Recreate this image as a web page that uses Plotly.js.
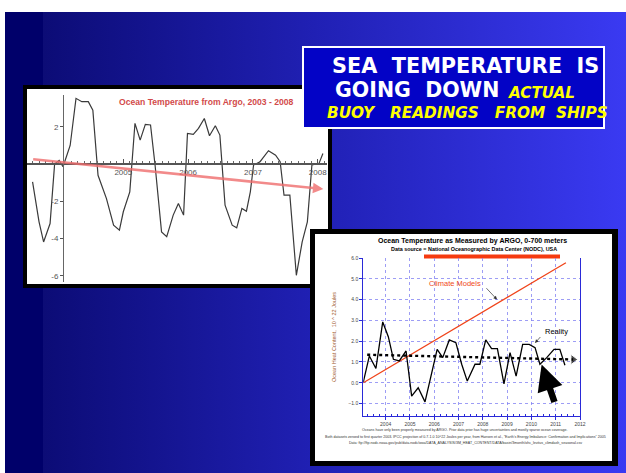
<!DOCTYPE html>
<html>
<head>
<meta charset="utf-8">
<script src="https://cdn.plot.ly/plotly-3.0.1.min.js"></script>
<style>
html,body{margin:0;padding:0;background:#ffffff;width:626px;height:473px;overflow:hidden}
#bg{position:absolute;left:5px;top:12px;width:621px;height:461px;
 background:linear-gradient(to right,#00006a 0px,#00006a 38px,#0c0c76 38px,#2020b4 50%,#3a3af2 100%)}
#plot{position:absolute;left:0;top:0;width:626px;height:473px}
</style>
</head>
<body>
<div id="bg"></div>
<div id="plot"></div>
<script>
// ---------- Left chart: Ocean Temperature from Argo, 2003 - 2008 ----------
const leftYears = [2003.60, 2003.70, 2003.77, 2003.87, 2003.94, 2004.01, 2004.07, 2004.18, 2004.27, 2004.36,
  2004.46, 2004.53, 2004.61, 2004.74, 2004.85, 2004.94, 2005.00, 2005.10, 2005.18, 2005.26,
  2005.34, 2005.42, 2005.49, 2005.59, 2005.67, 2005.77, 2005.85, 2005.93, 2005.99, 2006.08,
  2006.16, 2006.25, 2006.33, 2006.42, 2006.49, 2006.57, 2006.68, 2006.75, 2006.83, 2006.90,
  2006.96, 2007.01, 2007.11, 2007.24, 2007.35, 2007.42, 2007.48, 2007.57, 2007.67, 2007.76,
  2007.84, 2007.91, 2008.02, 2008.08];
const leftValues = [-0.95, -3.1, -4.18, -3.19, 0.0, 0.2, -0.14, 1.0, 3.53, 3.35,
  3.35, 2.9, -0.6, -1.85, -3.28, -3.55, -2.56, -1.49, 2.19, 1.29,
  2.13, 2.1, -0.05, -3.64, -3.9, -2.74, -2.11, -2.74, 1.65, 1.6,
  1.92, 2.45, 1.52, 2.06, 1.56, -2.2, -3.28, -3.42, -2.38, -2.53,
  -1.49, -0.05, 0.13, 0.72, 0.48, 0.13, -1.67, -1.67, -5.97, -4.18,
  -3.1, -0.05, 0.04, 0.57];
const leftTrendYears = [2003.586, 2008.086];
const leftTrendValues = [0.27, -1.34];
const leftXTicks = [2005, 2006, 2007, 2008];
const leftYTicks = [-6, -4, -2, 2];
const leftYTickText = ['-6', '-4', '-2', '2'];
const leftTitle = 'Ocean Temperature from Argo, 2003 - 2008';

// ---------- Right chart: Ocean Temperature as Measured by ARGO ----------
const rightYears = [2003.08, 2003.33, 2003.60, 2003.88, 2004.11, 2004.32, 2004.56, 2004.84, 2005.07, 2005.34,
  2005.62, 2006.12, 2006.35, 2006.62, 2006.89, 2007.13, 2007.36, 2007.68, 2007.88, 2008.12,
  2008.36, 2008.60, 2008.87, 2009.12, 2009.37, 2009.64, 2009.91, 2010.15, 2010.35, 2010.63,
  2010.93, 2011.17, 2011.38];
const realityValues = [0.03, 1.29, 0.69, 2.93, 2.22, 1.13, 1.05, 1.53, -0.64, -0.24,
  -0.92, 1.61, 1.21, 2.06, 1.93, 0.89, 0.08, 0.89, 0.89, 2.06,
  1.64, 1.64, -0.05, 1.45, 0.32, 1.85, 1.85, 1.69, 0.89, 1.21,
  1.61, 1.61, 0.84];
const modelYears = [2003.08, 2011.42];
const modelValues = [0.0, 5.78];
const realityTrendYears = [2003.24, 2011.72];
const realityTrendValues = [1.35, 1.12];
const bigArrowYears = [2010.97, 2010.42];   // tail, head
const bigArrowValues = [-1.0, 0.88];
const rightXTicks = [2004, 2005, 2006, 2007, 2008, 2009, 2010, 2011, 2012];
const rightYTicks = [-1, 0, 1, 2, 3, 4, 5, 6];
const rightTitle = 'Ocean Temperature as Measured by ARGO, 0-700 meters';
const rightSubtitle = 'Data source = National Oceanographic Data Center (NODC), USA';
const rightYTitle = 'Ocean Heat Content,  10 ^ 22 Joules';
const notes = [
  'Oceans have only been properly measured by ARGO. Prior data prior has huge uncertainties and mostly sparse ocean coverage.',
  'Both datasets zeroed to first quarter 2003. IPCC projection of 0.7-1.0 10^22 Joules per year, from Hansen et al., \u201cEarth\u2019s Energy Imbalance: Confirmation and Implications\u201d 2005',
  'Data: ftp://ftp.nodc.noaa.gov/pub/data.nodc/woa/DATA_ANALYSIS/3M_HEAT_CONTENT/DATA/basin/3month/ohc_levitus_climdash_seasonal.csv'
];

// ---------- Headline ----------
const headLine1 = 'SEA\u00a0\u00a0TEMPERATURE\u00a0\u00a0IS';
const headLine2 = 'GOING\u00a0\u00a0DOWN';
const headActual = 'ACTUAL';
const headLine3 = 'BUOY\u00a0\u00a0\u00a0READINGS\u00a0\u00a0\u00a0FROM\u00a0\u00a0SHIPS';

const W = 626, H = 473;
const px = v => v / W;
const py = v => 1 - v / H;
const rect = (x0, y0, x1, y1, fill, line, lw) => ({
  type: 'rect', xref: 'paper', yref: 'paper', layer: 'below',
  x0: px(x0), x1: px(x1), y0: py(y0), y1: py(y1),
  fillcolor: fill, line: {color: line || fill, width: lw || 0}
});

const blue = '#2a2ad8';
const gridBlue = '#8585f2';

const traces = [
  {x: leftYears, y: leftValues, xaxis: 'x', yaxis: 'y', mode: 'lines',
   line: {color: '#3a3a3a', width: 1.2}, hoverinfo: 'skip'},
  {x: modelYears, y: modelValues, xaxis: 'x2', yaxis: 'y2', mode: 'lines',
   line: {color: '#f0441a', width: 1.3}, hoverinfo: 'skip'},
  {x: realityTrendYears, y: realityTrendValues, xaxis: 'x2', yaxis: 'y2', mode: 'lines+markers',
   line: {color: '#000000', width: 2.4, dash: 'dot'},
   marker: {symbol: ['circle', 'triangle-right'], size: [0, 9], color: '#000000'}, hoverinfo: 'skip'},
  {x: rightYears, y: realityValues, xaxis: 'x2', yaxis: 'y2', mode: 'lines',
   line: {color: '#000000', width: 1.3}, hoverinfo: 'skip'}
];

const shapes = [
  // left panel
  rect(25, 87, 330, 286, '#ffffff', '#000000', 4),
  // headline box
  rect(303, 47, 604, 128, '#0303c6', '#ffffff', 2),
  // right panel
  rect(310, 229, 618, 466, '#000000'),
  rect(315, 234, 612, 461, '#ffffff'),
  // red highlight bar under subtitle
  rect(424, 254.5, 560, 258.5, '#f53a10')
];

const ann = [];
const txt = (text, x, y, size, color, opts) => Object.assign({
  text: text, xref: 'paper', yref: 'paper', x: px(x), y: py(y), showarrow: false,
  xanchor: 'center', yanchor: 'middle',
  font: {family: 'Liberation Sans, Arial, sans-serif', size: size, color: color}
}, opts || {});

// headline
ann.push(txt('<b>' + headLine1 + '</b>', 330, 66, 20.5, '#ffffff', {xanchor: 'left', font: {family: 'DejaVu Sans', size: 20.8, color: '#ffffff'}}));
ann.push(txt('<b>' + headLine2 + '</b>', 333, 90, 20.5, '#ffffff', {xanchor: 'left', font: {family: 'DejaVu Sans', size: 20.5, color: '#ffffff'}}));
ann.push(txt('<b><i>' + headActual + '</i></b>', 506, 93, 15.7, '#ffff00', {xanchor: 'left', font: {family: 'DejaVu Sans', size: 15.2, color: '#ffff00'}}));
ann.push(txt('<b><i>' + headLine3 + '</i></b>', 325, 112.5, 15.7, '#ffff00', {xanchor: 'left', font: {family: 'DejaVu Sans', size: 15.3, color: '#ffff00'}}));

// left chart title + trend arrow
ann.push(txt('<b>' + leftTitle + '</b>', 206, 102, 8.6, '#d24a4a'));
ann.push({text: '', xref: 'x', yref: 'y', axref: 'x', ayref: 'y',
  x: leftTrendYears[1], y: leftTrendValues[1], ax: leftTrendYears[0], ay: leftTrendValues[0],
  showarrow: true, arrowhead: 2, arrowsize: 0.8, arrowwidth: 2.6, arrowcolor: 'rgba(240,110,110,0.8)'});

// right chart texts
ann.push(txt('<b>' + rightTitle + '</b>', 472.5, 241, 7, '#000000'));
ann.push(txt('<b>' + rightSubtitle + '</b>', 473.5, 249, 5.4, '#000000'));
ann.push(txt(rightYTitle, 334, 337, 5.5, '#a0582c', {textangle: -90}));
notes.forEach((n, i) => ann.push(txt(n, 465, 430 + i * 6.7, 3.6, '#333333')));

ann.push(txt('Climate Models', 455, 283, 7.5, '#f04a20'));
ann.push({text: '', xref: 'paper', yref: 'paper', x: px(497), y: py(299.5), ax: -12, ay: -12.8,
  showarrow: true, arrowhead: 2, arrowsize: 1, arrowwidth: 0.7, arrowcolor: '#333333'});
ann.push(txt('Reality', 556, 331, 7.5, '#000000'));
ann.push({text: '', xref: 'paper', yref: 'paper', x: px(535), y: py(343), ax: 6.7, ay: -7.5,
  showarrow: true, arrowhead: 2, arrowsize: 1, arrowwidth: 0.7, arrowcolor: '#333333'});
// big black arrow
ann.push({text: '', xref: 'x2', yref: 'y2', axref: 'x2', ayref: 'y2',
  x: bigArrowYears[1], y: bigArrowValues[1], ax: bigArrowYears[0], ay: bigArrowValues[0],
  showarrow: true, arrowhead: 2, arrowsize: 0.8, arrowwidth: 6.5, arrowcolor: '#000000'});

const layout = {
  width: W, height: H,
  margin: {l: 0, r: 0, t: 0, b: 0},
  paper_bgcolor: 'rgba(0,0,0,0)',
  plot_bgcolor: 'rgba(0,0,0,0)',
  showlegend: false,
  xaxis: {
    domain: [px(27), px(327)], range: [2003.514, 2008.143],
    anchor: 'free', position: py(164),
    showline: true, linecolor: '#555555', linewidth: 2,
    ticks: 'inside', ticklen: 4, tickcolor: '#555555',
    tickmode: 'array', tickvals: leftXTicks, ticktext: leftXTicks.map(String),
    tickfont: {family: 'Liberation Sans, Arial', size: 8, color: '#555555'},
    showgrid: false, zeroline: false,
    minor: {tickmode: 'linear', tick0: 2004, dtick: 0.1, ticks: 'inside', ticklen: 2, tickcolor: '#666666', showgrid: false}
  },
  yaxis: {
    domain: [py(282), py(95)], range: [-6.33, 3.71],
    anchor: 'free', position: px(63),
    showline: true, linecolor: '#666666', linewidth: 1,
    ticks: 'outside', ticklen: 3, tickcolor: '#555555',
    tickmode: 'array', tickvals: leftYTicks, ticktext: leftYTickText,
    tickfont: {family: 'Liberation Sans, Arial', size: 8, color: '#555555'},
    showgrid: false, zeroline: false
  },
  xaxis2: {
    domain: [px(363.3), px(580)], range: [2003.08, 2012],
    anchor: 'y2',
    showline: true, linecolor: blue, linewidth: 1,
    ticks: 'outside', ticklen: 3, tickcolor: blue,
    tickmode: 'array', tickvals: rightXTicks, ticktext: rightXTicks.map(String),
    tickfont: {family: 'Liberation Sans, Arial', size: 5, color: '#444444'},
    showgrid: true, gridcolor: gridBlue, griddash: 'dot', gridwidth: 0.8,
    zeroline: false,
    minor: {tickmode: 'linear', tick0: 2003, dtick: 0.25, ticks: 'inside', ticklen: 2, tickcolor: blue, showgrid: false}
  },
  yaxis2: {
    domain: [py(416), py(257.5)], range: [-1.6, 6.03],
    anchor: 'x2',
    showline: true, linecolor: blue, linewidth: 1, mirror: true,
    ticks: 'outside', ticklen: 3, tickcolor: blue,
    tickmode: 'array', tickvals: rightYTicks, tickformat: '.1f',
    tickfont: {family: 'Liberation Sans, Arial', size: 5, color: '#444444'},
    showgrid: true, gridcolor: gridBlue, griddash: 'dot', gridwidth: 0.8,
    zeroline: false
  },
  shapes: shapes,
  annotations: ann
};

Plotly.newPlot('plot', traces, layout, {displayModeBar: false, staticPlot: true});
</script>
</body>
</html>
